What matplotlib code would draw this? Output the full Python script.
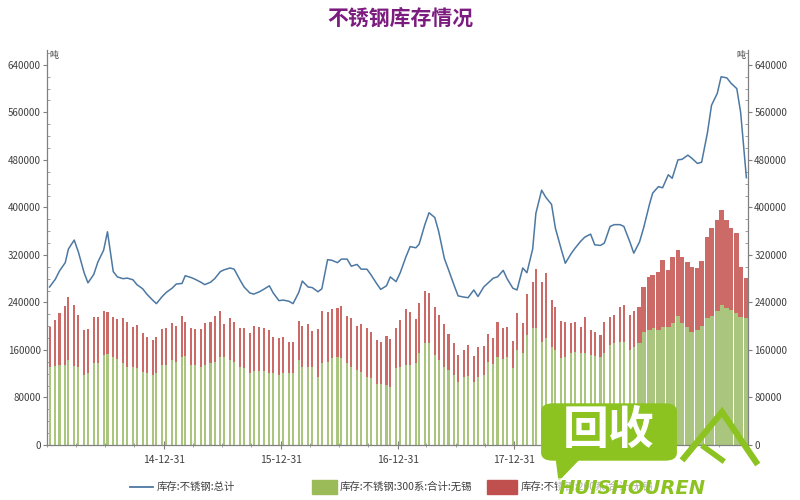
import matplotlib
matplotlib.use("Agg")
import matplotlib.pyplot as plt
import matplotlib.dates as mdates
from matplotlib.patches import Rectangle, FancyBboxPatch, Polygon
from matplotlib.lines import Line2D
from matplotlib.ticker import MultipleLocator, FuncFormatter, FixedLocator
import numpy as np
import pandas as pd

plt.rcParams['font.family'] = ['Noto Sans CJK SC', 'DejaVu Sans']

# two readings per month (8th and 26th), Jan 2014 - Dec 2019
months = pd.date_range('2014-01-01', '2019-12-01', freq='MS')
dates = []
for m in months:
    dates.append(m + pd.Timedelta(days=7))
    dates.append(m + pd.Timedelta(days=25))

# 库存:不锈钢:总计 (thousand t)
total_k = [
    266, 279, 293, 307, 330, 345, 325, 290, 273, 287, 308, 328,
    359, 292, 283, 280, 281, 278, 270, 263, 254, 244, 238, 250,
    257, 264, 271, 272, 285, 282, 279, 274, 270, 274, 280, 292,
    295, 298, 296, 278, 266, 256, 254, 258, 262, 268, 256, 243,
    244, 242, 238, 257, 276, 266, 265, 258, 263, 312, 311, 307,
    313, 313, 301, 304, 296, 296, 287, 272, 262, 268, 283, 275,
    290, 317, 334, 332, 338, 371, 391, 383, 360, 314, 295, 268,
    251, 249, 248, 261, 250, 266, 272, 281, 283, 294, 280, 264,
    261, 298, 290, 330, 390, 429, 417, 405, 365, 330, 306, 322,
    331, 343, 350, 355, 337, 336, 340, 368, 371, 371, 368, 343,
    323, 342, 366, 405, 424, 435, 433, 455, 449, 480, 481, 488,
    483, 474, 476, 525, 572, 592, 620, 618, 609, 600, 560, 450,
]

# top of the stacked bars (300系 + other) (thousand t)
stack_top_k = [
    199, 210, 222, 234, 249, 236, 219, 194, 195, 216, 216, 226,
    224, 216, 212, 214, 207, 199, 202, 189, 182, 177, 182, 195,
    197, 205, 200, 217, 207, 197, 195, 195, 205, 207, 217, 226,
    204, 214, 207, 197, 197, 189, 200, 199, 197, 194, 182, 180,
    182, 173, 173, 209, 200, 204, 192, 195, 226, 224, 229, 231,
    234, 217, 214, 200, 204, 197, 190, 177, 173, 184, 178, 197,
    211, 229, 224, 212, 239, 259, 256, 232, 219, 204, 187, 172,
    152, 160, 168, 150, 165, 167, 187, 180, 207, 197, 199, 175,
    222, 206, 255, 274, 296, 274, 290, 244, 232, 209, 207, 205,
    207, 199, 216, 194, 190, 185, 207, 216, 219, 232, 236, 219,
    225, 232, 266, 283, 286, 292, 312, 295, 317, 328, 317, 308,
    300, 298, 310, 350, 365, 378, 396, 379, 365, 357, 300, 281,
]

# 库存:不锈钢:300系:合计:无锡 (thousand t)
s300_k = [
    131, 133, 135, 135, 143, 133, 131, 118, 121, 138, 138, 152,
    153, 148, 145, 138, 131, 131, 130, 123, 121, 118, 121, 135,
    135, 143, 140, 148, 150, 135, 134, 131, 134, 138, 140, 148,
    148, 143, 140, 131, 130, 121, 125, 125, 125, 121, 121, 118,
    122, 121, 121, 143, 131, 131, 131, 115, 138, 140, 147, 148,
    147, 138, 131, 126, 123, 115, 113, 103, 103, 101, 98, 130,
    131, 135, 135, 138, 155, 172, 172, 152, 143, 131, 126, 118,
    106, 115, 116, 106, 115, 118, 140, 136, 148, 145, 148, 130,
    160, 155, 185, 197, 197, 173, 180, 165, 160, 147, 148, 155,
    157, 155, 155, 152, 150, 148, 155, 168, 172, 173, 173, 160,
    165, 172, 190, 194, 197, 194, 199, 199, 205, 218, 205, 199,
    190, 194, 200, 214, 218, 225, 236, 231, 227, 222, 216, 214,
]

total = np.array(total_k) * 1000
s300 = np.array(s300_k) * 1000
other = np.array(stack_top_k) * 1000 - s300

labels = ['库存:不锈钢:总计', '库存:不锈钢:300系:合计:无锡', '库存:不锈钢:200系:合计:无锡']

COL_LINE = '#4c78a2'
COL_GREEN = '#aac67e'
COL_RED = '#cc6a67'
TXT = '#404040'

fig = plt.figure(figsize=(8, 5), dpi=100)
ax = fig.add_axes([47 / 800, 55 / 500, 701 / 800, 395 / 500])

# thin bars until end of 2018, then wider ones
widths = [6.5 if d < pd.Timestamp('2019-01-20') else 15 for d in dates]
ax.bar(dates, s300, width=widths, color=COL_GREEN, linewidth=0, zorder=2)
ax.bar(dates, other, bottom=s300, width=widths, color=COL_RED, linewidth=0, zorder=2)
ax.plot(dates, total, color=COL_LINE, lw=1.1, zorder=3)

ax.set_xlim(pd.Timestamp('2013-12-31'), pd.Timestamp('2019-12-31'))
ax.set_ylim(0, 665000)

# axes styling
ax.spines['top'].set_visible(False)
for s in ['left', 'right', 'bottom']:
    ax.spines[s].set_color('#808080')
    ax.spines[s].set_linewidth(0.9)

ax.yaxis.set_major_locator(FixedLocator(np.arange(0, 640001, 80000)))
ax.yaxis.set_minor_locator(MultipleLocator(20000))
ax.yaxis.set_major_formatter(FuncFormatter(lambda v, p: f'{int(v)}'))
ax.tick_params(axis='y', which='major', left=True, right=True, labelleft=True,
               labelright=True, direction='out', length=3, width=0.8,
               color='#808080', labelsize=7, labelcolor=TXT, pad=1.5)
ax.tick_params(axis='y', which='minor', left=True, right=True, direction='in',
               length=2, width=0.6, color='#909090')

# the 2018 year-end label sits under the site watermark in the source
year_ends = [pd.Timestamp(f'{y}-12-31') for y in range(2014, 2019)]
ax.xaxis.set_major_locator(FixedLocator(mdates.date2num(year_ends)))
ax.xaxis.set_major_formatter(FuncFormatter(
    lambda v, p: '' if mdates.num2date(v).year == 2018 else mdates.num2date(v).strftime('%y-%m-%d')))
ax.xaxis.set_minor_locator(mdates.MonthLocator(bymonth=[3, 6, 9, 12], bymonthday=-1))
ax.tick_params(axis='x', which='major', direction='inout', length=6, width=0.8,
               color='#808080', labelsize=7.5, labelcolor=TXT, pad=4)
ax.tick_params(axis='x', which='minor', direction='inout', length=3, width=0.6,
               color='#909090')

ax.text(0.004, 0.998, '吨', transform=ax.transAxes, ha='left', va='top',
        fontsize=6.5, color=TXT)
ax.text(0.996, 0.998, '吨', transform=ax.transAxes, ha='right', va='top',
        fontsize=6.5, color=TXT)

fig.text(0.5, 1 - 18 / 500, '不锈钢库存情况', ha='center', va='center',
         fontsize=15, weight='bold', color='#7b1c7e')

# legend, drawn by hand in figure pixels
def fx(px):
    return px / 800


def fy(py):
    return 1 - py / 500


ly = 487
fig.add_artist(Line2D([fx(130), fx(153)], [fy(ly), fy(ly)], color=COL_LINE, lw=1.3))
fig.text(fx(157), fy(ly), labels[0], ha='left', va='center', fontsize=7.5, color=TXT)
fig.add_artist(Rectangle((fx(312), fy(ly + 7)), fx(25), 14 / 500, color='#9bbb59'))
fig.text(fx(340), fy(ly), labels[1], ha='left', va='center', fontsize=7.5, color=TXT)
fig.add_artist(Rectangle((fx(487), fy(ly + 7)), fx(30), 14 / 500, color='#c0504d'))
fig.text(fx(521), fy(ly), labels[2], ha='left', va='center', fontsize=7.5, color=TXT)

# watermark of the source site (lies over the end of the third legend label)
WM = '#8cc320'
fig.add_artist(FancyBboxPatch((fx(545), fy(458)), fx(128), 52 / 500,
                              boxstyle='round,pad=0.004,rounding_size=0.014',
                              color=WM, zorder=10))
fig.add_artist(Polygon([(fx(556), fy(456)), (fx(559), fy(480)), (fx(582), fy(456))],
                       closed=True, color=WM, zorder=10))
fig.text(fx(609), fy(431), '回收', ha='center', va='center', fontsize=33,
         weight='bold', color='white', zorder=11)
fig.add_artist(Line2D([fx(684), fx(722), fx(756)], [fy(458), fy(412), fy(462)],
                      color=WM, lw=4.5, solid_joinstyle='miter', zorder=10))
fig.add_artist(Line2D([fx(704), fx(722)], [fy(447), fy(460)],
                      color=WM, lw=4, zorder=10))
fig.text(fx(632), fy(488), 'HUISHOUREN', ha='center', va='center', fontsize=14,
         weight='bold', style='italic', color=WM, zorder=11, family='DejaVu Sans',
         bbox=dict(boxstyle='square,pad=0.05', facecolor='white', edgecolor='none', alpha=0.6))

fig.savefig('out.png', dpi=100)
